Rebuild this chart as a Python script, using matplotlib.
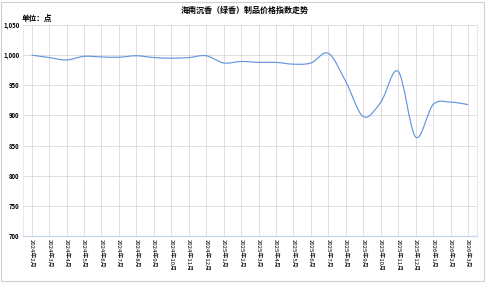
import matplotlib.pyplot as plt
from matplotlib.path import Path
from matplotlib.patches import PathPatch, Rectangle
import numpy as np

plt.rcParams['font.family'] = ['Noto Sans CJK SC', 'DejaVu Sans']

# --- data
months = ['2024年2月', '2024年3月', '2024年4月', '2024年5月', '2024年6月', '2024年7月',
          '2024年8月', '2024年9月', '2024年10月', '2024年11月', '2024年12月',
          '2025年1月', '2025年2月', '2025年3月', '2025年4月', '2025年5月', '2025年6月',
          '2025年7月', '2025年8月', '2025年9月', '2025年10月', '2025年11月', '2025年12月',
          '2026年1月', '2026年2月', '2026年3月']
index_vals = [1000, 996, 992, 998, 997, 996.5, 999, 996, 995, 996, 999,
              987, 989.5, 988, 988, 985, 987, 1003, 956, 898, 922, 973, 864,
              918, 922, 918]
yticks = [700, 750, 800, 850, 900, 950, 1000, 1050]
ytick_labels = ['700', '750', '800', '850', '900', '950', '1,000', '1,050']


def smooth_path(x, y, t=1/6):
    # catmull-rom style bezier path, like a spreadsheet "smoothed line"
    x = np.asarray(x, float)
    y = np.asarray(y, float)
    n = len(x)
    verts = [(x[0], y[0])]
    codes = [Path.MOVETO]
    for i in range(n - 1):
        x0, y0 = (x[i - 1], y[i - 1]) if i > 0 else (x[i], y[i])
        x3, y3 = (x[i + 2], y[i + 2]) if i + 2 < n else (x[i + 1], y[i + 1])
        c1 = (x[i] + (x[i + 1] - x0) * t, y[i] + (y[i + 1] - y0) * t)
        c2 = (x[i + 1] - (x3 - x[i]) * t, y[i + 1] - (y3 - y[i]) * t)
        verts += [c1, c2, (x[i + 1], y[i + 1])]
        codes += [Path.CURVE4] * 3
    return Path(verts, codes)


fig = plt.figure(figsize=(4.87, 2.84), dpi=100)
fig.patches.append(Rectangle((0.003, 0.012), 0.99, 0.982, transform=fig.transFigure,
                             fill=False, edgecolor='#d0d0d0', linewidth=0.8))
ax = fig.add_axes([0.047, 0.169, 0.932, 0.743])

xs = np.arange(len(months))
ax.add_patch(PathPatch(smooth_path(xs, index_vals), facecolor='none',
                       edgecolor='#6396dc', linewidth=0.85, zorder=3))

ax.set_xlim(-0.5, len(months) - 0.5)
ax.set_ylim(700, 1050)
ax.set_yticks(yticks)
ax.set_yticklabels(ytick_labels, fontsize=4.3, fontweight='bold')
ax.set_xticks(xs)
ax.set_xticklabels(months, rotation=-90, fontsize=4.3, va='top', ha='center')
ax.tick_params(length=0, pad=2.5)
ax.grid(True, color='#d9d9d9', linewidth=0.6)
ax.set_axisbelow(True)

ax.spines['top'].set_visible(False)
ax.spines['left'].set_color('#e4e8ef')
ax.spines['right'].set_color('#e4e8ef')
ax.spines['bottom'].set_color('#c9d6ea')
ax.spines['left'].set_linewidth(0.6)
ax.spines['right'].set_linewidth(0.8)
ax.spines['bottom'].set_linewidth(0.9)

fig.text(0.503, 0.965, '海南沉香（绿香）制品价格指数走势', ha='center', va='center',
         fontsize=5.8, fontweight='bold')
fig.text(0.045, 0.935, '单位：点', ha='left', va='center', fontsize=5.5, fontweight='bold')

fig.savefig('out.png', dpi=100)
